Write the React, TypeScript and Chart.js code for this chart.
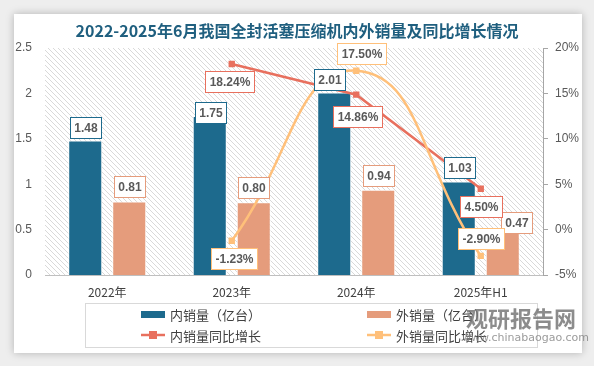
import React, { useEffect, useRef } from "react";
import { Chart, registerables } from "chart.js";

Chart.register(...registerables);

const categories = ["2022年", "2023年", "2024年", "2025年H1"];
const domesticSales = [1.48, 1.75, 2.01, 1.03];
const exportSales = [0.81, 0.8, 0.94, 0.47];
const domesticYoY: (number | null)[] = [null, 18.24, 14.86, 4.5];
const exportYoY: (number | null)[] = [null, -1.23, 17.5, -2.9];
const leftTicks = [0, 0.5, 1, 1.5, 2, 2.5];
const rightTicks = [-5, 0, 5, 10, 15, 20];

const TITLE = "2022-2025年6月我国全封活塞压缩机内外销量及同比增长情况";
const C_DOM = "#1d6a8d";
const C_EXP = "#e59c7c";
const C_DYOY = "#e8705e";
const C_EYOY = "#ffc07a";

// label box offsets (layout only): [dx, dy] relative to element anchor
const labelOffsets: Record<number, ([number, number] | null)[]> = {
  0: [[0, -13], [1, -4], [-5, -13], [1, -14]],
  1: [[0, -15], [0, -15], [0, -14], [14, -10]],
  2: [null, [-2, 18], [1, 22], [0, 18]],
  3: [null, [2, 18], [5, -17], [0, -17]],
};

function makeHatch(): CanvasPattern | string {
  const c = document.createElement("canvas");
  c.width = 5;
  c.height = 5;
  const g = c.getContext("2d");
  if (!g) return "#fff";
  g.fillStyle = "#ffffff";
  g.fillRect(0, 0, 5, 5);
  g.strokeStyle = "#d9d9d9";
  g.lineWidth = 1;
  g.beginPath();
  g.moveTo(-1, -1);
  g.lineTo(6, 6);
  g.moveTo(-1, 4);
  g.lineTo(1, 6);
  g.moveTo(4, -1);
  g.lineTo(6, 1);
  g.stroke();
  const p = g.createPattern(c, "repeat");
  return p || "#fff";
}

const decorPlugin = {
  id: "decor",
  beforeDraw(chart: any) {
    const { ctx, chartArea } = chart;
    ctx.save();
    ctx.fillStyle = makeHatch();
    ctx.fillRect(chartArea.left, chartArea.top, chartArea.right - chartArea.left, chartArea.bottom - chartArea.top);
    ctx.restore();
  },
  afterDatasetsDraw(chart: any) {
    const ctx = chart.ctx;
    const colors = [C_DOM, C_EXP, C_DYOY, C_EYOY];
    ctx.save();
    ctx.font = "bold 12px 'Liberation Sans', Arial, sans-serif";
    ctx.textAlign = "center";
    ctx.textBaseline = "middle";
    chart.data.datasets.forEach((ds: any, di: number) => {
      const meta = chart.getDatasetMeta(di);
      ds.data.forEach((v: number | null, i: number) => {
        if (v === null || v === undefined) return;
        const off = labelOffsets[di][i];
        if (!off) return;
        const el = meta.data[i];
        const isBar = di < 2;
        const txt = isBar ? v.toFixed(2) : v.toFixed(2) + "%";
        const tw = ctx.measureText(txt).width;
        const w = Math.round(tw + 8);
        const h = 21;
        const cx = el.x + off[0];
        const cy = el.y + off[1];
        const x0 = Math.round(cx - w / 2) + 0.5;
        const y0 = Math.round(cy - h / 2) + 0.5;
        ctx.fillStyle = "#ffffff";
        ctx.fillRect(x0, y0, w, h);
        ctx.strokeStyle = colors[di];
        ctx.lineWidth = 1;
        ctx.strokeRect(x0, y0, w, h);
        ctx.fillStyle = "#595959";
        ctx.fillText(txt, x0 + w / 2, y0 + h / 2 + 0.5);
      });
    });
    ctx.restore();
  },
  afterDraw(chart: any) {
    const ctx = chart.ctx;
    ctx.save();
    // title
    ctx.font = "bold 16px 'Noto Sans CJK SC', sans-serif";
    ctx.fillStyle = "#1f5f7f";
    ctx.textAlign = "center";
    ctx.textBaseline = "middle";
    ctx.fillText(TITLE, 297, 31);

    // legend box
    ctx.strokeStyle = "#d9d9d9";
    ctx.lineWidth = 1;
    ctx.strokeRect(85.5, 303.5, 452, 44);
    ctx.font = "13px 'Noto Sans CJK SC', sans-serif";
    ctx.textAlign = "left";
    const items = [
      { x: 141, y: 314, color: C_DOM, bar: true, label: "内销量（亿台）" },
      { x: 367, y: 314, color: C_EXP, bar: true, label: "外销量（亿台）" },
      { x: 141, y: 335, color: C_DYOY, bar: false, label: "内销量同比增长" },
      { x: 367, y: 335, color: C_EYOY, bar: false, label: "外销量同比增长" },
    ];
    items.forEach((it) => {
      if (it.bar) {
        ctx.fillStyle = it.color;
        ctx.fillRect(it.x, it.y - 3, 24, 7);
      } else {
        ctx.strokeStyle = it.color;
        ctx.lineWidth = 2.5;
        ctx.beginPath();
        ctx.moveTo(it.x, it.y);
        ctx.lineTo(it.x + 24, it.y);
        ctx.stroke();
        ctx.fillStyle = it.color;
        ctx.fillRect(it.x + 8, it.y - 4, 8, 8);
      }
      ctx.fillStyle = "#404040";
      ctx.fillText(it.label, it.x + 29, it.y + 1);
    });

    // watermark
    ctx.fillStyle = "rgba(120,120,120,0.85)";
    ctx.font = "bold 22px 'Noto Sans CJK SC', sans-serif";
    ctx.textAlign = "left";
    ctx.fillText("观研报告网", 466, 319);
    ctx.font = "11px 'DejaVu Sans', sans-serif";
    ctx.fillStyle = "rgba(130,130,130,0.8)";
    ctx.fillText("www.chinabaogao.com", 462, 338);
    ctx.restore();
  },
};

export default function App() {
  const ref = useRef<HTMLCanvasElement | null>(null);
  useEffect(() => {
    if (!ref.current) return;
    const chart = new Chart(ref.current, {
      type: "bar",
      data: {
        labels: categories,
        datasets: [
          {
            type: "bar",
            label: "内销量（亿台）",
            data: domesticSales,
            backgroundColor: C_DOM,
            borderColor: "#ffffff",
            borderWidth: 1,
            yAxisID: "y",
            order: 2,
            categoryPercentage: 0.707,
            barPercentage: 0.773,
          },
          {
            type: "bar",
            label: "外销量（亿台）",
            data: exportSales,
            backgroundColor: C_EXP,
            borderColor: "#ffffff",
            borderWidth: 1,
            yAxisID: "y",
            order: 2,
            categoryPercentage: 0.707,
            barPercentage: 0.773,
          },
          {
            type: "line",
            label: "内销量同比增长",
            data: domesticYoY,
            borderColor: C_DYOY,
            backgroundColor: C_DYOY,
            borderWidth: 2.5,
            pointStyle: "rect",
            pointRadius: 4.5,
            pointBorderWidth: 0,
            tension: 0,
            yAxisID: "y1",
            order: 1,
          },
          {
            type: "line",
            label: "外销量同比增长",
            data: exportYoY,
            borderColor: C_EYOY,
            backgroundColor: C_EYOY,
            borderWidth: 2.5,
            pointStyle: "rect",
            pointRadius: 4.5,
            pointBorderWidth: 0,
            tension: 0.5,
            yAxisID: "y1",
            order: 0,
          },
        ] as any,
      },
      options: {
        responsive: false,
        animation: false,
        devicePixelRatio: 1,
        layout: { padding: { top: 48, left: 0, right: 0, bottom: 0 } },
        plugins: {
          legend: { display: false },
          title: { display: false },
          tooltip: { enabled: false },
        },
        scales: {
          x: {
            grid: { display: false, drawTicks: false },
            border: { display: true, color: "#bfbfbf", width: 1 },
            ticks: {
              color: "#404040",
              font: { size: 12, family: "'Noto Sans CJK SC', sans-serif" },
              padding: 10,
              maxRotation: 0,
            },
            afterFit: (s: any) => {
              s.height = 91;
            },
          },
          y: {
            position: "left",
            min: 0,
            max: 2.5,
            afterBuildTicks: (s: any) => {
              s.ticks = leftTicks.map((v) => ({ value: v }));
            },
            grid: { display: false, drawTicks: false },
            border: { display: false },
            ticks: {
              color: "#595959",
              font: { size: 12, family: "'Liberation Sans', Arial, sans-serif" },
              padding: 13,
              callback: (v: any) => String(v),
            },
            afterFit: (s: any) => {
              s.width = 45;
            },
          },
          y1: {
            position: "right",
            min: -5,
            max: 20,
            afterBuildTicks: (s: any) => {
              s.ticks = rightTicks.map((v) => ({ value: v }));
            },
            grid: { drawOnChartArea: false, drawTicks: true, tickLength: 5, color: "#a6a6a6" },
            border: { display: true, color: "#a6a6a6", width: 1 },
            ticks: {
              color: "#595959",
              font: { size: 12, family: "'Liberation Sans', Arial, sans-serif" },
              padding: 7,
              callback: (v: any) => v + "%",
            },
            afterFit: (s: any) => {
              s.width = 51;
            },
          },
        },
      } as any,
      plugins: [decorPlugin],
    });
    return () => chart.destroy();
  }, []);

  return (
    <div style={{ position: "fixed", left: 0, top: 0, width: 594, height: 366, background: "#eeeeee", overflow: "hidden" }}>
      <div
        style={{
          position: "absolute",
          left: 14,
          top: 14,
          width: 568,
          height: 339,
          background: "#ffffff",
          boxShadow: "0 0 8px rgba(0,0,0,0.25)",
        }}
      />
      <canvas ref={ref} width={594} height={366} style={{ position: "absolute", left: 0, top: 0, width: 594, height: 366 }} />
    </div>
  );
}
